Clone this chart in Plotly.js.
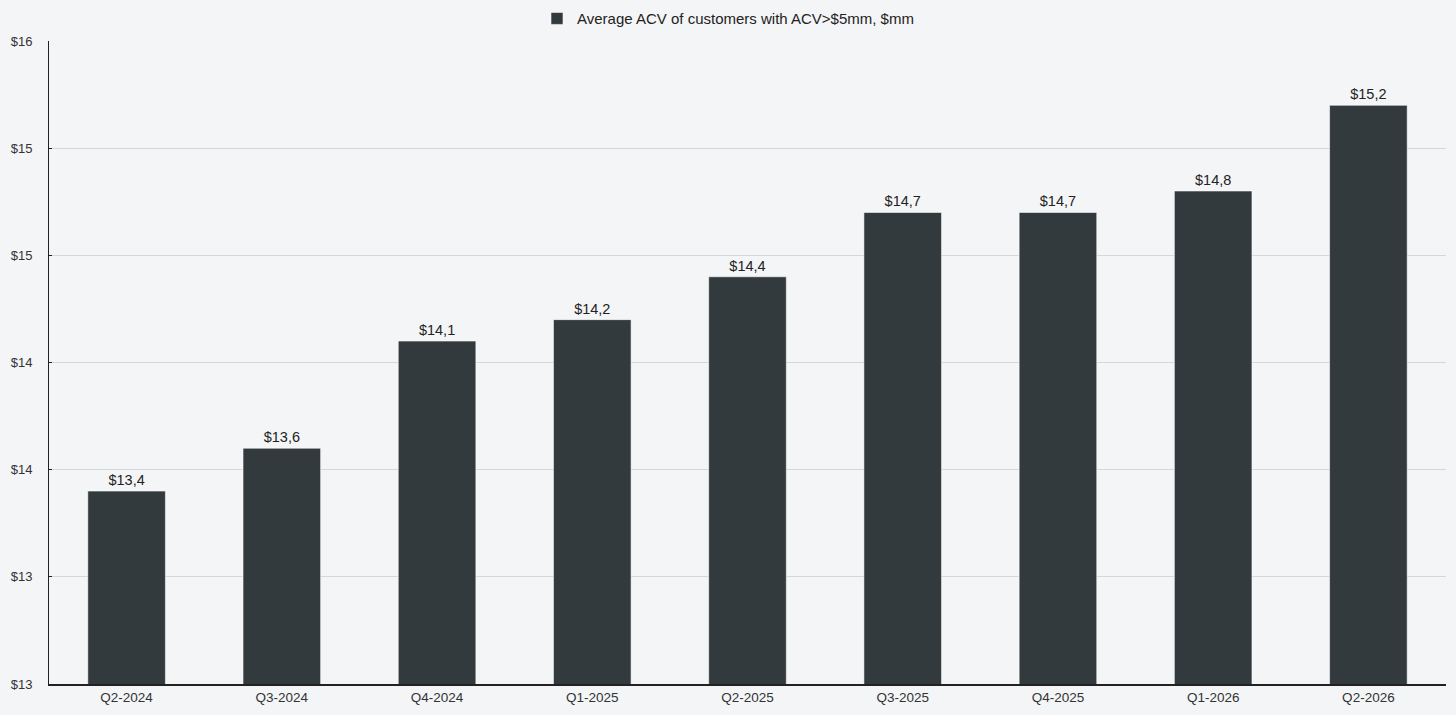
<!DOCTYPE html>
<html>
<head>
<meta charset="utf-8">
<script src="https://cdn.plot.ly/plotly-3.0.1.min.js"></script>
<style>
  html, body { margin: 0; padding: 0; background: #f4f5f7; }
  #graph { width: 1456px; height: 715px; }
</style>
</head>
<body>
<div id="graph"></div>
<script>
// quarters on the x axis
let quarters = ["Q2-2024", "Q3-2024", "Q4-2024", "Q1-2025", "Q2-2025",
                "Q3-2025", "Q4-2025", "Q1-2026", "Q2-2026"];
// average ACV, $mm
let avg_acv = [13.4, 13.6, 14.1, 14.2, 14.4, 14.7, 14.7, 14.8, 15.2];
// y axis ticks (labels are rounded to whole dollars in the source)
let y_tickvals = [12.5, 13, 13.5, 14, 14.5, 15, 15.5];
let y_ticktext = ["$13", "$13", "$14", "$14", "$15", "$15", "$16"];

let bar_labels = avg_acv.map(function (v) {
  return "$" + v.toFixed(1).replace(".", ",");
});

let trace1 = {
  x: quarters,
  y: avg_acv,
  type: "bar",
  name: "Average ACV of customers with ACV>$5mm, $mm",
  marker: { color: "#323a3d", line: { width: 1, color: "rgba(255,255,255,0.55)" } },
  width: 0.5,
  text: bar_labels,
  textposition: "outside",
  cliponaxis: false,
  textfont: { size: 14.5, color: "#222222" },
  hoverinfo: "skip",
};

let layout = {
  paper_bgcolor: "#f4f5f7",
  plot_bgcolor: "#f4f5f7",
  font: { family: "Liberation Sans, Arial, sans-serif", size: 13, color: "#333333" },
  margin: { l: 49, r: 10, t: 41, b: 31 },
  showlegend: true,
  legend: {
    orientation: "h",
    xref: "container",
    yref: "container",
    x: 0.5,
    xanchor: "center",
    y: 0.997,
    yanchor: "top",
    font: { size: 15, color: "#222222" },
    bgcolor: "rgba(0,0,0,0)",
  },
  xaxis: {
    showgrid: false,
    showline: true,
    linecolor: "#222222",
    linewidth: 2,
    ticks: "",
    tickfont: { size: 13.5, color: "#333333" },
    fixedrange: true,
  },
  yaxis: {
    range: [12.5, 15.5],
    tickmode: "array",
    tickvals: y_tickvals,
    ticktext: y_ticktext,
    showgrid: true,
    gridcolor: "#d6d7d9",
    gridwidth: 1,
    zeroline: false,
    showline: true,
    linecolor: "#222222",
    linewidth: 1,
    ticks: "inside",
    ticklen: 3,
    tickcolor: "#222222",
    ticklabelstandoff: 13,
    tickfont: { size: 13, color: "#333333" },
    fixedrange: true,
  },
};

Plotly.newPlot("graph", [trace1], layout, { displayModeBar: false, staticPlot: true });
</script>
</body>
</html>
